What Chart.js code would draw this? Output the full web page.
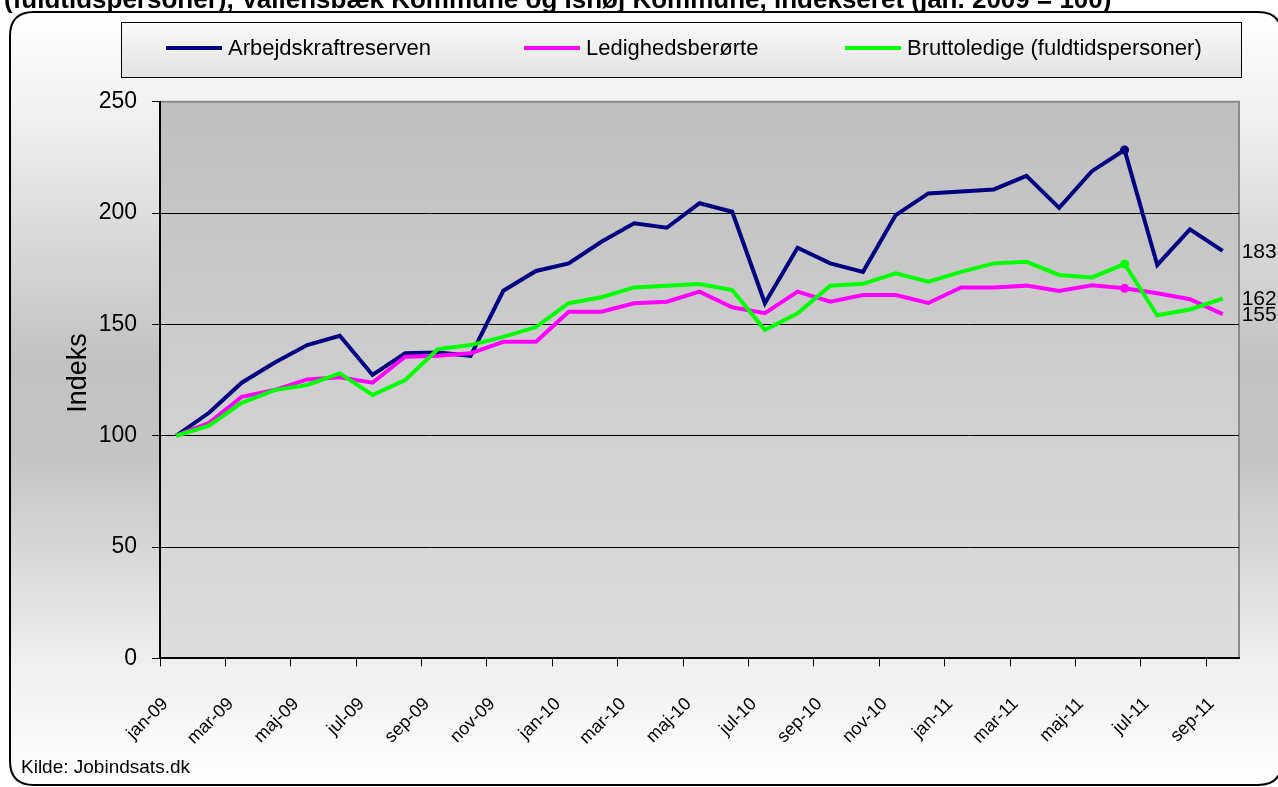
<!DOCTYPE html>
<html>
<head>
<meta charset="utf-8">
<script src="https://cdn.jsdelivr.net/npm/chart.js@4.4.1/dist/chart.umd.min.js"></script>
<style>
  html, body { margin: 0; padding: 0; background: #ffffff; }
  #wrap { width: 1278px; height: 787px; }
</style>
</head>
<body>
<div id="wrap"><canvas id="c" width="1278" height="787"></canvas></div>
<script>
// ---- data ----
const titleText = "(fuldtidspersoner), Vallensbæk Kommune og Ishøj Kommune, indekseret (jan. 2009 = 100)";
const sourceText = "Kilde: Jobindsats.dk";
const yAxisTitle = "Indeks";
const months = ["jan-09","feb-09","mar-09","apr-09","maj-09","jun-09","jul-09","aug-09","sep-09","okt-09","nov-09","dec-09",
                "jan-10","feb-10","mar-10","apr-10","maj-10","jun-10","jul-10","aug-10","sep-10","okt-10","nov-10","dec-10",
                "jan-11","feb-11","mar-11","apr-11","maj-11","jun-11","jul-11","aug-11","sep-11"];
const seriesNames = ["Arbejdskraftreserven", "Ledighedsberørte", "Bruttoledige (fuldtidspersoner)"];
const arbejdskraftreserven = [100, 110.3, 123.8, 132.8, 140.7, 144.9, 127.3, 137.0, 137.4, 135.9, 165.1, 174.0,
                              177.4, 187.1, 195.4, 193.4, 204.4, 200.6, 159.5, 184.4, 177.4, 173.6, 199.1, 208.8,
                              209.7, 210.6, 216.7, 202.3, 218.8, 228.3, 176.7, 192.7, 183.0];
const ledighedsberoerte = [100, 105.8, 117.5, 120.5, 125.3, 126.2, 123.8, 135.5, 135.9, 137.0, 142.2, 142.2,
                           155.7, 155.7, 159.5, 160.2, 164.7, 157.7, 155.0, 164.7, 160.2, 163.2, 163.2, 159.6,
                           166.6, 166.6, 167.4, 165.0, 167.6, 166.2, 164.0, 161.3, 154.6];
const bruttoledige = [100, 104.5, 114.8, 120.5, 122.8, 128.0, 118.3, 125.0, 138.9, 140.7, 144.4, 148.8,
                      159.5, 162.2, 166.6, 167.4, 168.1, 165.4, 147.5, 155.0, 167.4, 168.2, 172.9, 169.2,
                      173.6, 177.4, 178.1, 172.2, 171.1, 177.1, 154.1, 156.7, 161.6];
const yTicks = [0, 50, 100, 150, 200, 250];
const markerIndex = 29; // jun-11 marked point

// ---- styles ----
const FONT = '"Liberation Sans", Arial, sans-serif';
const colors = ["#000080", "#ff00ff", "#00ff00"];
const legendX = [166, 524, 845];

function roundRect(ctx, x, y, w, h, r) {
  ctx.beginPath();
  ctx.moveTo(x + r, y);
  ctx.lineTo(x + w - r, y);
  ctx.quadraticCurveTo(x + w, y, x + w, y + r);
  ctx.lineTo(x + w, y + h - r);
  ctx.quadraticCurveTo(x + w, y + h, x + w - r, y + h);
  ctx.lineTo(x + r, y + h);
  ctx.quadraticCurveTo(x, y + h, x, y + h - r);
  ctx.lineTo(x, y + r);
  ctx.quadraticCurveTo(x, y, x + r, y);
  ctx.closePath();
}

const decoPlugin = {
  id: 'deco',
  beforeDraw(chart) {
    const { ctx, chartArea: ca, width, height } = chart;
    ctx.save();
    ctx.fillStyle = '#ffffff';
    ctx.fillRect(0, 0, width, height);
    // outer frame
    const g = ctx.createLinearGradient(0, 12, 0, 785);
    g.addColorStop(0, '#ffffff');
    g.addColorStop(0.12, '#f2f2f2');
    g.addColorStop(0.45, '#c2c2c2');
    g.addColorStop(0.58, '#c4c4c4');
    g.addColorStop(0.85, '#f0f0f0');
    g.addColorStop(1, '#ffffff');
    roundRect(ctx, 10, 12, 1272, 773, 24);
    ctx.fillStyle = g;
    ctx.fill();
    ctx.lineWidth = 2;
    ctx.strokeStyle = '#000';
    ctx.stroke();
    // title (cut at top)
    ctx.font = 'bold 26px ' + FONT;
    ctx.fillStyle = '#000';
    ctx.textBaseline = 'alphabetic';
    ctx.textAlign = 'left';
    ctx.fillText(titleText, 4, 8);
    // plot area
    const pg = ctx.createLinearGradient(0, ca.top, 0, ca.bottom);
    pg.addColorStop(0, '#bfbfbf');
    pg.addColorStop(1, '#dddddd');
    ctx.fillStyle = pg;
    ctx.fillRect(ca.left, ca.top, ca.right - ca.left, ca.bottom - ca.top);
    // plot border (top, right)
    ctx.strokeStyle = '#8a8a8a';
    ctx.lineWidth = 2;
    ctx.beginPath();
    ctx.moveTo(ca.left, ca.top);
    ctx.lineTo(ca.right, ca.top);
    ctx.lineTo(ca.right, ca.bottom);
    ctx.stroke();
    // legend box
    const lg = ctx.createLinearGradient(0, 22, 0, 77);
    lg.addColorStop(0, '#fbfbfb');
    lg.addColorStop(1, '#e2e2e2');
    ctx.fillStyle = lg;
    ctx.fillRect(121.5, 22.5, 1120, 55);
    ctx.strokeStyle = '#000';
    ctx.lineWidth = 1;
    ctx.strokeRect(121.5, 22.5, 1120, 55);
    chart.data.datasets.forEach((ds, i) => {
      const x = legendX[i];
      ctx.strokeStyle = ds.borderColor;
      ctx.lineWidth = 4;
      ctx.beginPath();
      ctx.moveTo(x, 48);
      ctx.lineTo(x + 56, 48);
      ctx.stroke();
      ctx.fillStyle = '#000';
      ctx.font = '22px ' + FONT;
      ctx.textBaseline = 'middle';
      ctx.fillText(ds.label, x + 62, 49);
    });
    // source
    ctx.font = '19px ' + FONT;
    ctx.textBaseline = 'alphabetic';
    ctx.fillStyle = '#000';
    ctx.fillText(sourceText, 21, 773);
    // y axis title
    ctx.save();
    ctx.translate(79, 373);
    ctx.rotate(-Math.PI / 2);
    ctx.font = '27px ' + FONT;
    ctx.textAlign = 'center';
    ctx.textBaseline = 'middle';
    ctx.fillText(yAxisTitle, 0, 0);
    ctx.restore();
    ctx.restore();
  },
  afterDatasetsDraw(chart) {
    const { ctx } = chart;
    ctx.save();
    ctx.font = '21px ' + FONT;
    ctx.fillStyle = '#000';
    ctx.textBaseline = 'middle';
    ctx.textAlign = 'left';
    chart.data.datasets.forEach((ds, i) => {
      const meta = chart.getDatasetMeta(i);
      const last = meta.data[meta.data.length - 1];
      ctx.fillText(String(Math.round(ds.data[ds.data.length - 1])), last.x + 19, last.y + 1);
    });
    ctx.restore();
  }
};

const seriesData = [arbejdskraftreserven, ledighedsberoerte, bruttoledige];
const drawOrder = [2, 1, 0];

new Chart(document.getElementById('c'), {
  type: 'line',
  data: {
    labels: months,
    datasets: seriesNames.map((name, i) => ({
      label: name,
      data: seriesData[i],
      borderColor: colors[i],
      backgroundColor: colors[i],
      borderWidth: 4,
      tension: 0,
      fill: false,
      order: drawOrder[i],
      pointRadius: c => c.dataIndex === markerIndex ? 4.5 : 0,
      pointHoverRadius: 0,
      pointBorderWidth: 0,
      pointBackgroundColor: colors[i]
    }))
  },
  options: {
    responsive: false,
    animation: false,
    devicePixelRatio: 1,
    events: [],
    layout: { padding: { left: 0, top: 101.7, right: 39, bottom: 0 } },
    plugins: { legend: { display: false }, tooltip: { enabled: false }, title: { display: false } },
    scales: {
      x: {
        type: 'category',
        offset: true,
        grid: {
          offset: true,
          drawOnChartArea: false,
          drawTicks: true,
          tickLength: 8,
          lineWidth: 1,
          color: c => (c.index !== undefined && c.index % 2 === 0) ? '#000' : 'rgba(0,0,0,0)'
        },
        border: { display: true, color: '#000', width: 2 },
        ticks: {
          autoSkip: false,
          maxRotation: 45,
          minRotation: 45,
          padding: 27,
          labelOffset: -11,
          color: '#000',
          font: { family: FONT, size: 18 },
          callback: (v, i) => i % 2 === 0 ? months[i] : ''
        },
        afterFit: s => { s.height = 787 - 658.4; }
      },
      y: {
        min: 0,
        max: 250,
        afterBuildTicks: s => { s.ticks = yTicks.map(v => ({ value: v })); },
        ticks: { padding: 15, color: '#000', font: { family: FONT, size: 23 } },
        grid: {
          lineWidth: 1,
          tickLength: 8,
          tickColor: '#000',
          color: c => (c.tick && (c.tick.value === 0 || c.tick.value === 250)) ? 'rgba(0,0,0,0)' : '#000'
        },
        border: { display: true, color: '#000', width: 2 },
        title: { display: false },
        afterFit: s => { s.width = 160; }
      }
    }
  },
  plugins: [decoPlugin]
});
</script>
</body>
</html>
